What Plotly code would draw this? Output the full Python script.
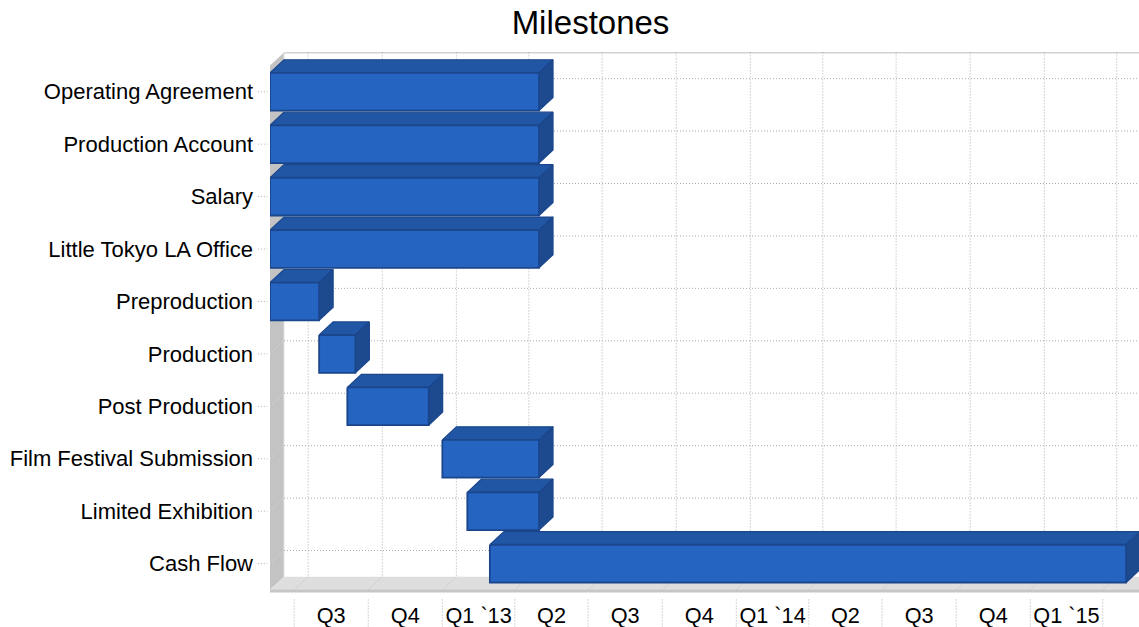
import pandas as pd
import plotly.graph_objects as go

# ---------------- data ----------------
tasks = ["Operating Agreement", "Production Account", "Salary", "Little Tokyo LA Office",
         "Preproduction", "Production", "Post Production", "Film Festival Submission",
         "Limited Exhibition", "Cash Flow"]
starts = ["2012-06-01", "2012-06-01", "2012-06-01", "2012-06-01", "2012-06-01",
          "2012-08-01", "2012-09-05", "2013-01-01", "2013-02-01", "2013-03-01"]
ends = ["2013-05-01", "2013-05-01", "2013-05-01", "2013-05-01", "2012-08-01",
        "2012-09-15", "2012-12-15", "2013-05-01", "2013-05-01", "2015-04-30"]

quarter_bounds = ["2012-07-01", "2012-10-01", "2013-01-01", "2013-04-01", "2013-07-01",
                  "2013-10-01", "2014-01-01", "2014-04-01", "2014-07-01", "2014-10-01",
                  "2015-01-01", "2015-04-01"]
quarter_labels = ["Q3", "Q4", "Q1 `13", "Q2", "Q3", "Q4", "Q1 `14", "Q2", "Q3", "Q4", "Q1 `15"]

axis_start = "2012-06-01"
axis_end = "2015-05-16"

# ---------------- style ----------------
FONT = "Liberation Sans, Arial, sans-serif"
FRONT = "#2564C1"
TOP = "#2156A5"
SIDE = "#1D4A8F"
EDGE = "#1B468C"
GRID = "#acacac"
DOT = "1px,2px"

x0 = pd.Timestamp(axis_start)
x1 = pd.Timestamp(axis_end)
dx = pd.Timedelta(days=17.4)   # depth offset (horizontal)
dy = 0.25                      # depth offset (vertical, category units)
h = 0.72                       # bar thickness
n = len(tasks)
y_bottom = n - 0.5
y_top = -0.5

qb = [pd.Timestamp(q) for q in quarter_bounds]
qmid = [qb[i] + (qb[i + 1] - qb[i]) / 2 for i in range(len(quarter_labels))]

fig = go.Figure()


def poly(xs, ys, fill, line_color=None, line_width=0):
    fig.add_trace(go.Scatter(
        x=xs, y=ys, mode="lines", fill="toself", fillcolor=fill,
        line=dict(color=line_color or fill, width=line_width),
        hoverinfo="skip", showlegend=False))


def lines(xs, ys, color, width=1, dash=DOT):
    fig.add_trace(go.Scatter(
        x=xs, y=ys, mode="lines", line=dict(color=color, width=width, dash=dash),
        hoverinfo="skip", showlegend=False, connectgaps=False))


# left wall
poly([x0, x0 + dx, x0 + dx, x0, x0],
     [y_top, y_top - dy, y_bottom - dy, y_bottom, y_top], "#c3c3c3")
# floor
poly([x0, x0 + dx, x1 + dx, x1 + dx, x0, x0],
     [y_bottom, y_bottom - dy, y_bottom - dy, y_bottom, y_bottom, y_bottom], "#dedede")
# floor front edge
lines([x0, x1 + dx], [y_bottom + 0.02, y_bottom + 0.02], "#c6c6c6", width=3, dash="solid")
# back wall top edge
lines([x0 + dx, x1 + dx], [y_top - dy, y_top - dy], "#d2d2d2", width=2, dash="solid")
# left wall inner edge
lines([x0 + dx, x0 + dx], [y_top - dy, y_bottom - dy], "#e2e2e2", width=1, dash="solid")

# back wall gridlines (vertical at quarter bounds)
gx, gy = [], []
for q in qb:
    gx += [q + dx, q + dx, None]
    gy += [y_top - dy, y_bottom - dy, None]
lines(gx, gy, GRID)
# floor diagonals
fx, fy = [], []
for q in qb:
    fx += [q, q + dx, None]
    fy += [y_bottom, y_bottom - dy, None]
lines(fx, fy, "#bababa")
# back wall horizontal gridlines at categories
hx, hy = [], []
for i in range(n):
    hx += [x0 + dx, x1 + dx, None]
    hy += [i - dy, i - dy, None]
lines(hx, hy, GRID)
# left wall diagonals
lx, ly = [], []
for i in range(n):
    lx += [x0, x0 + dx, None]
    ly += [i, i - dy, None]
lines(lx, ly, "#dcdcdc")

# bars (3D boxes)
for i, (s, e) in enumerate(zip(starts, ends)):
    s = pd.Timestamp(s)
    e = pd.Timestamp(e)
    yt = i - h / 2
    yb = i + h / 2
    # top face
    poly([s, e, e + dx, s + dx, s], [yt, yt, yt - dy, yt - dy, yt], TOP, EDGE, 1.2)
    # side face
    poly([e, e + dx, e + dx, e, e], [yt, yt - dy, yb - dy, yb, yt], SIDE, EDGE, 1.2)
    # front face
    poly([s, e, e, s, s], [yt, yt, yb, yb, yt], FRONT, EDGE, 1.8)

# dotted separators below the axis
for q in qb:
    fig.add_shape(type="line", xref="x", yref="paper", x0=q, x1=q, y0=-0.012, y1=-0.075,
                  line=dict(color=GRID, width=1, dash=DOT))
# dotted y tick marks
for i in range(n):
    fig.add_shape(type="line", xref="paper", yref="y", x0=-0.014, x1=-0.003, y0=i, y1=i,
                  line=dict(color=GRID, width=1, dash=DOT))

fig.update_layout(
    width=1139, height=627,
    margin=dict(l=270, r=0, t=52, b=34),
    paper_bgcolor="white", plot_bgcolor="white",
    font=dict(family=FONT, size=22, color="black"),
    title=dict(text="Milestones", x=590.5 / 1139, xref="container", xanchor="center",
               y=1 - 22 / 627, yref="container", yanchor="middle",
               font=dict(family=FONT, size=33, color="black")),
    showlegend=False,
    xaxis=dict(type="date", range=[x0, x1], showgrid=False, zeroline=False, showline=False,
               tickvals=qmid, ticktext=quarter_labels, ticks="", ticklabelstandoff=7,
               automargin=False,
               tickfont=dict(family=FONT, size=21.7, color="black"), fixedrange=True),
    yaxis=dict(range=[y_bottom + 0.06, y_top - dy - 0.008], showgrid=False, zeroline=False,
               showline=False, tickvals=list(range(n)), ticktext=tasks, ticks="",
               ticklabelstandoff=16, automargin=False,
               tickfont=dict(family=FONT, size=22, color="black"), fixedrange=True),
)

fig.write_html("out.html")
